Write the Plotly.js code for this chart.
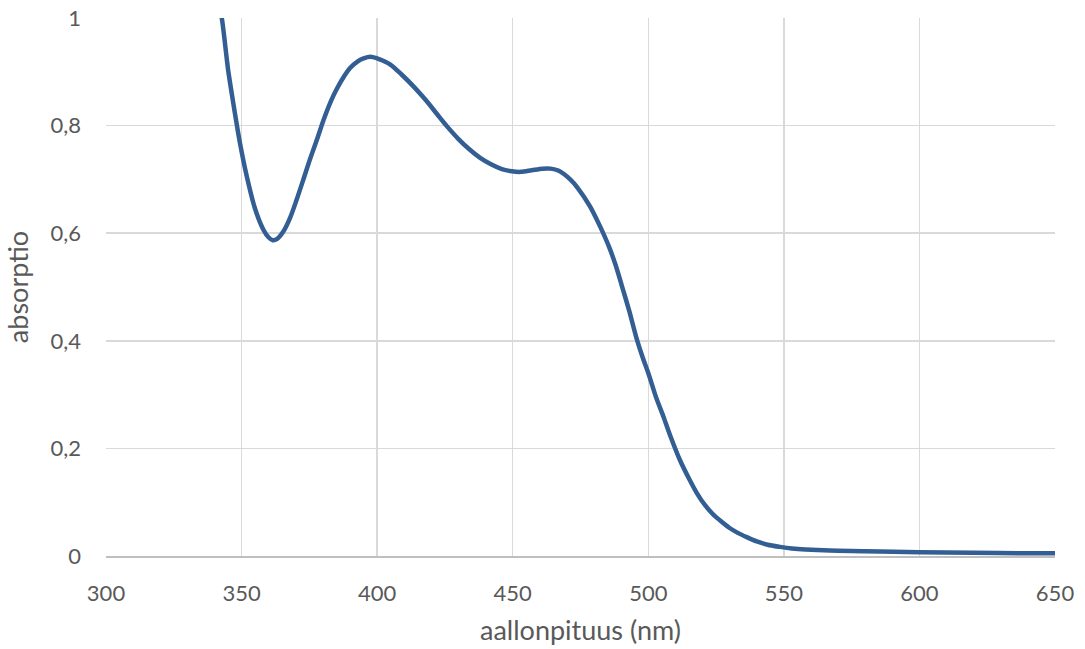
<!DOCTYPE html>
<html>
<head>
<meta charset="utf-8">
<script src="https://cdn.plot.ly/plotly-3.0.1.min.js"></script>
<style>html,body{margin:0;padding:0;background:#fff;}#chart{width:1085px;height:649px;}</style>
</head>
<body>
<div id="chart"></div>
<script>
const wavelength = [338, 341, 342.7, 345, 347, 349.4, 352, 355, 358, 360, 361.5, 363, 365.4, 368, 370.3, 373, 375.2, 378, 380.2, 383, 385.1, 388, 390, 393, 395, 397.5, 400, 402, 405, 409, 413.4, 418, 422, 425.7, 430, 434, 438, 442, 446, 449.7, 453, 457, 461, 464, 467, 471.2, 474, 478.5, 482, 485.5, 488, 490.8, 493, 495.7, 498, 500, 503, 505.6, 508, 511.7, 515, 517.9, 521, 524, 526.5, 530, 533, 536.3, 540, 544, 548.6, 553, 558, 567, 580, 600, 620, 640, 650];
const absorbance = [1.12, 1.04, 1.0, 0.905, 0.84, 0.768, 0.704, 0.645, 0.607, 0.592, 0.587, 0.589, 0.603, 0.63, 0.662, 0.703, 0.737, 0.777, 0.81, 0.846, 0.868, 0.893, 0.907, 0.92, 0.925, 0.928, 0.925, 0.921, 0.913, 0.895, 0.873, 0.847, 0.822, 0.799, 0.775, 0.756, 0.74, 0.728, 0.719, 0.715, 0.714, 0.717, 0.72, 0.72, 0.716, 0.7, 0.684, 0.65, 0.615, 0.575, 0.54, 0.493, 0.455, 0.404, 0.368, 0.34, 0.293, 0.259, 0.225, 0.178, 0.144, 0.117, 0.094, 0.077, 0.066, 0.052, 0.043, 0.035, 0.027, 0.021, 0.017, 0.014, 0.012, 0.010, 0.009, 0.007, 0.006, 0.005, 0.005];
const yTicks = [0, 0.2, 0.4, 0.6, 0.8, 1];
const yTickText = ['0', '0,2', '0,4', '0,6', '0,8', '1'];
const xTicks = [300, 350, 400, 450, 500, 550, 600, 650];

function mkFont(size) { return {family: 'Lato, "Open Sans", sans-serif', size: size, color: '#595959'}; }
Plotly.newPlot('chart', [{
  x: wavelength, y: absorbance, type: 'scatter', mode: 'lines',
  line: {color: '#335e93', width: 4.5, shape: 'spline', smoothing: 0.8},
  hoverinfo: 'skip'
}], {
  width: 1085, height: 649,
  margin: {l: 106, r: 30, t: 18, b: 93},
  paper_bgcolor: '#fff', plot_bgcolor: '#fff',
  showlegend: false,
  font: mkFont(20),
  xaxis: {
    range: [300, 650], tickvals: xTicks, ticktext: xTicks.map(String),
    showgrid: true, gridcolor: '#d9d9d9', gridwidth: 1.5,
    zeroline: false, showline: true, linecolor: '#bfbfbf', linewidth: 1.5,
    ticks: '', ticklabelstandoff: 17, tickfont: mkFont(22),
    title: {text: 'aallonpituus (nm)', font: mkFont(27), standoff: 16}
  },
  yaxis: {
    range: [0, 1], tickvals: yTicks, ticktext: yTickText,
    showgrid: true, gridcolor: '#d9d9d9', gridwidth: 1.5,
    zeroline: false, showline: false,
    ticks: '', ticklabelstandoff: 24, tickfont: mkFont(22),
    title: {text: 'absorptio', font: mkFont(27), standoff: 14}
  }
}, {staticPlot: true});
</script>
</body>
</html>
